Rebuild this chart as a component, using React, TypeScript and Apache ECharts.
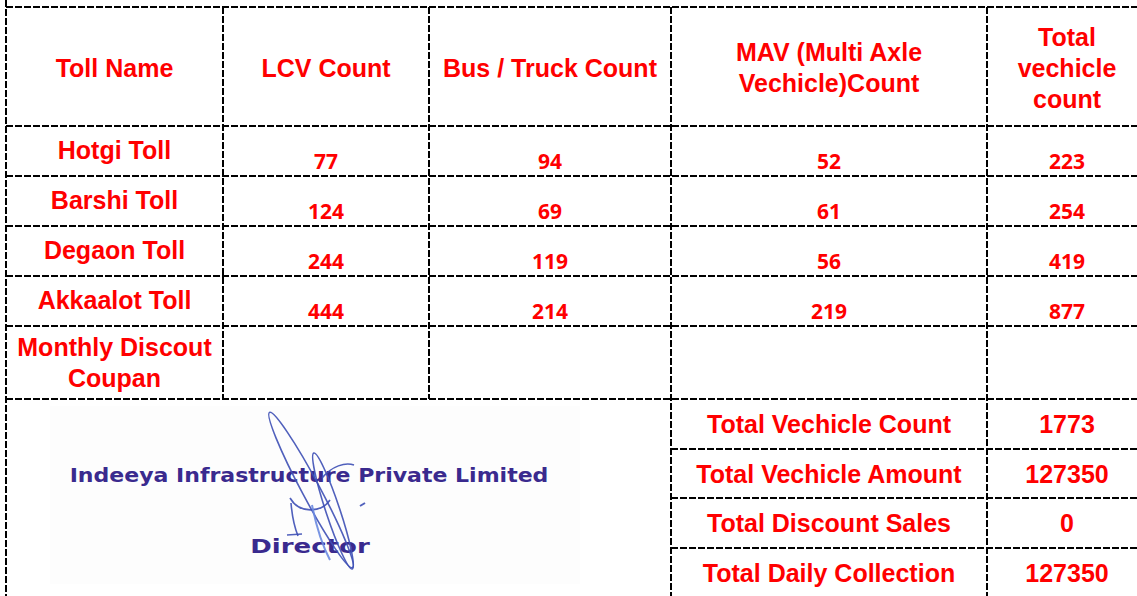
import React, { useEffect, useRef } from "react";
import * as echarts from "echarts";

const headers = ["Toll Name", "LCV Count", "Bus / Truck Count", "MAV (Multi Axle\nVechicle)Count", "Total\nvechicle\ncount"];
const tollNames = ["Hotgi Toll", "Barshi Toll", "Degaon Toll", "Akkaalot Toll"];
const lcvCount = [77, 124, 244, 444];
const busTruckCount = [94, 69, 119, 214];
const mavCount = [52, 61, 56, 219];
const totalCount = [223, 254, 419, 877];
const extraRow = "Monthly Discout\nCoupan";
const summaryLabels = ["Total Vechicle Count", "Total Vechicle Amount", "Total Discount Sales", "Total Daily Collection"];
const summaryValues = [1773, 127350, 0, 127350];
const stampCompany = "Indeeya Infrastructure Private Limited";
const stampTitle = "Director";

const W = 1137;
const H = 596;
const colX = [6, 223, 429, 671, 987, 1147];
const rowY = [7, 126, 176, 226, 276, 326, 399, 449, 498, 548, 598];

const RED = "#ff0000";
const HEAD_FONT = '"Liberation Sans", Arial, sans-serif';
const NUM_FONT = '"Open Sans", sans-serif';

export default function App() {
  const ref = useRef<HTMLDivElement>(null);
  useEffect(() => {
    document.body.style.margin = "0";
    const chart = echarts.init(ref.current!, null, { renderer: "svg" });
    const els: any[] = [];
    const lineStyle = { stroke: "#000", lineWidth: 2, lineDash: [7, 2] };
    const hLine = (y: number, x1: number, x2: number) =>
      els.push({ type: "line", shape: { x1, y1: y, x2, y2: y }, style: lineStyle, z: 5 });
    const vLine = (x: number, y1: number, y2: number) =>
      els.push({ type: "line", shape: { x1: x, y1, x2: x, y2 }, style: lineStyle, z: 5 });

    // faint scanned background for stamp
    els.push({ type: "rect", shape: { x: 50, y: 406, width: 530, height: 178 }, style: { fill: "#fdfdfd" }, z: 1 });

    for (let i = 0; i <= 6; i++) hLine(rowY[i], 6, W);
    for (let i = 7; i <= 9; i++) hLine(rowY[i], colX[3], W);
    vLine(colX[0], 0, H);
    vLine(colX[1], rowY[0], rowY[6]);
    vLine(colX[2], rowY[0], rowY[6]);
    vLine(colX[3], rowY[0], H);
    vLine(colX[4], rowY[0], H);

    const cx = (c: number) => (colX[c] + colX[c + 1]) / 2;
    const cy = (r: number) => (rowY[r] + rowY[r + 1]) / 2;
    const txt = (text: string, x: number, y: number, font: string, size: number, extra: any = {}) =>
      els.push({
        type: "text",
        x,
        y,
        z: 10,
        style: {
          text,
          align: "center",
          verticalAlign: "middle",
          fontFamily: font,
          fontSize: size,
          fontWeight: "bold",
          fill: RED,
          lineHeight: 31,
          ...extra,
        },
      });

    headers.forEach((h, c) => txt(h, cx(c), cy(0) + 1, HEAD_FONT, 25));
    const cols = [lcvCount, busTruckCount, mavCount, totalCount];
    tollNames.forEach((n, r) => {
      txt(n, cx(0), cy(r + 1) - 1, HEAD_FONT, 25);
      cols.forEach((arr, c) => txt(String(arr[r]), cx(c + 1), cy(r + 1) + 10, NUM_FONT, 21));
    });
    txt(extraRow, cx(0), cy(5), HEAD_FONT, 25);
    summaryLabels.forEach((l, i) => {
      txt(l, cx(3), cy(6 + i), HEAD_FONT, 25);
      txt(String(summaryValues[i]), cx(4), cy(6 + i), HEAD_FONT, 25);
    });

    // stamp
    const STAMP = "#3a2a8e";
    els.push({
      type: "text",
      x: 309,
      y: 476,
      scaleX: 1.16,
      originX: 0,
      z: 8,
      style: {
        text: stampCompany,
        align: "center",
        verticalAlign: "middle",
        fontFamily: '"DejaVu Sans", sans-serif',
        fontWeight: "bold",
        fontSize: 19,
        fill: STAMP,
      },
    });
    els.push({
      type: "text",
      x: 310,
      y: 546,
      scaleX: 1.3,
      z: 8,
      style: {
        text: stampTitle,
        align: "center",
        verticalAlign: "middle",
        fontFamily: '"DejaVu Sans", sans-serif',
        fontWeight: "bold",
        fontSize: 20,
        fill: STAMP,
      },
    });
    // signature strokes
    const SIG = "#3d4fb5";
    const sigStyle = { fill: "none", stroke: SIG, lineWidth: 1.6, opacity: 0.9 };
    els.push({ type: "ellipse", x: 311, y: 490, rotation: 0.49, shape: { cx: 0, cy: 0, rx: 9, ry: 88 }, style: sigStyle, z: 9 });
    els.push({ type: "ellipse", x: 333, y: 511, rotation: 0.32, shape: { cx: 0, cy: 0, rx: 7, ry: 61 }, style: sigStyle, z: 9 });
    els.push({ type: "bezierCurve", shape: { x1: 290, y1: 498, cpx1: 300, cpy1: 515, cpx2: 322, cpy2: 512, x2: 330, y2: 500 }, style: sigStyle, z: 9 });
    els.push({ type: "bezierCurve", shape: { x1: 322, y1: 478, cpx1: 332, cpy1: 466, cpx2: 345, cpy2: 462, x2: 354, y2: 465 }, style: sigStyle, z: 9 });
    els.push({ type: "bezierCurve", shape: { x1: 291, y1: 503, cpx1: 292, cpy1: 515, cpx2: 294, cpy2: 526, x2: 298, y2: 536 }, style: sigStyle, z: 9 });
    els.push({ type: "line", shape: { x1: 287, y1: 535, x2: 302, y2: 534 }, style: sigStyle, z: 9 });
    els.push({ type: "bezierCurve", shape: { x1: 312, y1: 505, cpx1: 316, cpy1: 525, cpx2: 322, cpy2: 545, x2: 330, y2: 560 }, style: { ...sigStyle, stroke: "#6a8ae0", lineWidth: 2 }, z: 9 });
    els.push({ type: "line", shape: { x1: 360, y1: 506, x2: 365, y2: 503 }, style: { ...sigStyle, lineWidth: 2 }, z: 9 });

    chart.setOption({ animation: false, backgroundColor: "#fff", graphic: { elements: els } });
    return () => chart.dispose();
  }, []);
  return <div ref={ref} style={{ width: W, height: H }} />;
}
